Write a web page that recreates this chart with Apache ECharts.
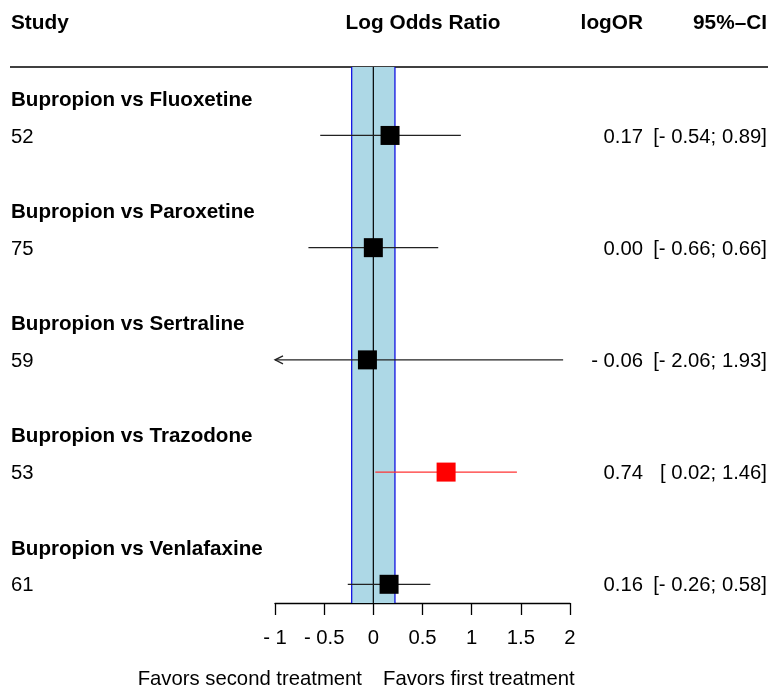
<!DOCTYPE html>
<html><head><meta charset="utf-8">
<script src="https://cdn.jsdelivr.net/npm/echarts@6/dist/echarts.min.js"></script>
<style>html,body{margin:0;padding:0;background:#fff}#c{width:771px;height:687px}</style>
</head><body><div id="c"></div>
<script>
const comparisons = ["Bupropion vs Fluoxetine","Bupropion vs Paroxetine","Bupropion vs Sertraline","Bupropion vs Trazodone","Bupropion vs Venlafaxine"];
const studyLabels = ["52","75","59","53","61"];
const logOR = [0.17, 0.00, -0.06, 0.74, 0.16];
const ciLower = [-0.54, -0.66, -2.06, 0.02, -0.26];
const ciUpper = [0.89, 0.66, 1.93, 1.46, 0.58];
const bandLimits = [-0.22, 0.22];
const xMin = -1, xMax = 2, xStep = 0.5;

const FONT = "'Liberation Sans', Arial, Helvetica, sans-serif";
const FS = '20.3px ';
const FSB = 'bold 20.6px ';
function fmt(v){ return v < 0 ? "- " + Math.abs(v).toFixed(2) : v.toFixed(2); }
function fmtLo(v){ return v < 0 ? "- " + Math.abs(v).toFixed(2) : " " + v.toFixed(2); }

const rows = comparisons.map((c, i) => [i, logOR[i], ciLower[i], ciUpper[i]]);

const chart = echarts.init(document.getElementById('c'), null, {renderer: 'canvas'});
chart.setOption({
  animation: false,
  grid: {left: 275, right: 201, top: 67, bottom: 84},
  xAxis: {
    type: 'value', min: xMin, max: xMax, interval: xStep,
    splitLine: {show: false},
    axisLine: {show: true, onZero: false, lineStyle: {color: '#000', width: 1.3}},
    axisTick: {show: true, length: 12, lineStyle: {color: '#000', width: 1.3}},
    axisLabel: {color: '#000', fontSize: 20.3, fontFamily: FONT, margin: 25,
      formatter: v => v < 0 ? "- " + Math.abs(v) : String(v)}
  },
  yAxis: {type: 'value', inverse: true, min: -0.83, max: 13.5, show: false},
  series: [
    {
      type: 'custom', z: 1,
      data: [[0]],
      renderItem: function(params, api){
        const cs = params.coordSys;
        const x0 = api.coord([bandLimits[0], 0])[0];
        const x1 = api.coord([bandLimits[1], 0])[0];
        const xz = api.coord([0, 0])[0];
        return {type: 'group', children: [
          {type: 'rect', shape: {x: x0, y: cs.y, width: x1 - x0, height: cs.height},
           style: {fill: '#ADD8E6', stroke: null}},
          {type: 'line', shape: {x1: x0, y1: cs.y, x2: x0, y2: cs.y + cs.height}, style: {stroke: '#0000E0', lineWidth: 1.2}},
          {type: 'line', shape: {x1: x1, y1: cs.y, x2: x1, y2: cs.y + cs.height}, style: {stroke: '#0000E0', lineWidth: 1.2}},
          {type: 'line', shape: {x1: xz, y1: cs.y, x2: xz, y2: cs.y + cs.height}, style: {stroke: '#000', lineWidth: 1.2}}
        ]};
      }
    },
    {
      type: 'custom', z: 2, clip: false,
      data: rows,
      renderItem: function(params, api){
        const i = api.value(0);
        const est = api.value(1), lo = api.value(2), hi = api.value(3);
        const sig = lo > 0 || hi < 0;
        const col = sig ? '#FF0000' : '#000';
        const lineCol = sig ? '#FF3333' : '#222';
        const titleY = api.coord([0, 3 * i])[1];
        const rowY = api.coord([0, 3 * i + 1])[1];
        const pLo = api.coord([Math.max(lo, xMin), 0])[0];
        const pHi = api.coord([Math.min(hi, xMax), 0])[0];
        const pEst = api.coord([est, 0])[0];
        const sz = 19;
        const ch = [];
        ch.push({type: 'line', shape: {x1: pLo, y1: rowY, x2: pHi, y2: rowY}, style: {stroke: lineCol, lineWidth: 1.3}});
        if (lo < xMin) ch.push({type: 'polyline', shape: {points: [[pLo + 8, rowY - 4], [pLo, rowY], [pLo + 8, rowY + 4]]}, style: {stroke: lineCol, lineWidth: 1.3, fill: null}});
        if (hi > xMax) ch.push({type: 'polyline', shape: {points: [[pHi - 8, rowY - 4], [pHi, rowY], [pHi - 8, rowY + 4]]}, style: {stroke: lineCol, lineWidth: 1.3, fill: null}});
        ch.push({type: 'rect', shape: {x: pEst - sz / 2, y: rowY - sz / 2, width: sz, height: sz}, style: {fill: col, stroke: null}});
        ch.push({type: 'text', style: {text: comparisons[i], x: 11, y: titleY + 2, font: FSB + FONT, fill: '#000', textAlign: 'left', textVerticalAlign: 'middle'}});
        ch.push({type: 'text', style: {text: studyLabels[i], x: 11, y: rowY + 1.5, font: FS + FONT, fill: '#000', textAlign: 'left', textVerticalAlign: 'middle'}});
        ch.push({type: 'text', style: {text: fmt(est), x: 643, y: rowY + 1.5, font: FS + FONT, fill: '#000', textAlign: 'right', textVerticalAlign: 'middle'}});
        ch.push({type: 'text', style: {text: '[' + fmtLo(lo) + '; ' + fmt(hi) + ']', x: 767, y: rowY + 1.5, font: FS + FONT, fill: '#000', textAlign: 'right', textVerticalAlign: 'middle'}});
        return {type: 'group', children: ch};
      }
    }
  ],
  graphic: [
    {type: 'text', x: 11, y: 23, style: {text: 'Study', font: 'bold 20.8px ' + FONT, fill: '#000', textAlign: 'left', textVerticalAlign: 'middle'}},
    {type: 'text', x: 423, y: 23, style: {text: 'Log Odds Ratio', font: 'bold 20.8px ' + FONT, fill: '#000', textAlign: 'center', textVerticalAlign: 'middle'}},
    {type: 'text', x: 643, y: 23, style: {text: 'logOR', font: 'bold 20.8px ' + FONT, fill: '#000', textAlign: 'right', textVerticalAlign: 'middle'}},
    {type: 'text', x: 767, y: 23, style: {text: '95%–CI', font: 'bold 20.8px ' + FONT, fill: '#000', textAlign: 'right', textVerticalAlign: 'middle'}},
    {type: 'line', shape: {x1: 10, y1: 67, x2: 768, y2: 67}, style: {stroke: '#000', lineWidth: 1.5}},
    {type: 'text', x: 362, y: 679, style: {text: 'Favors second treatment', font: FS + FONT, fill: '#000', textAlign: 'right', textVerticalAlign: 'middle'}},
    {type: 'text', x: 383, y: 679, style: {text: 'Favors first treatment', font: FS + FONT, fill: '#000', textAlign: 'left', textVerticalAlign: 'middle'}}
  ]
});
</script></body></html>
